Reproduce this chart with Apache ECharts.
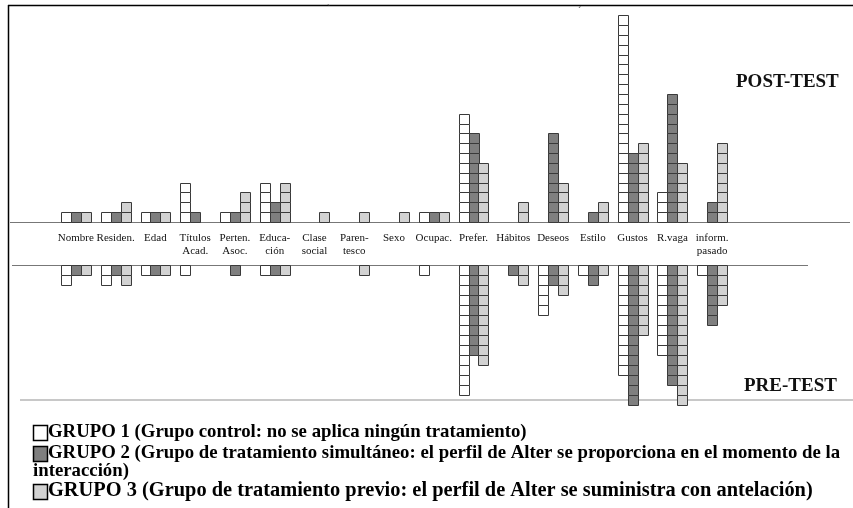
<!DOCTYPE html>
<html>
<head>
<meta charset="utf-8">
<script src="https://cdn.jsdelivr.net/npm/echarts@6/dist/echarts.min.js"></script>
<style>
  html, body { margin: 0; padding: 0; background: #fff; }
  #chart { width: 853px; height: 508px; }
</style>
</head>
<body>
<div id="chart"></div>
<script>
// categories (labels between the two baselines)
const categories = [
  "Nombre", "Residen.", "Edad", "Títulos\nAcad.", "Perten.\nAsoc.", "Educa-\nción",
  "Clase\nsocial", "Paren-\ntesco", "Sexo", "Ocupac.", "Prefer.", "Hábitos",
  "Deseos", "Estilo", "Gustos", "R.vaga", "inform.\npasado"
];

// POST-TEST counts (upper half)
const grupo1Post = [1, 1, 1, 4, 1, 4, 0, 0, 0, 1, 11, 0, 0, 0, 21, 3, 0];
const grupo2Post = [1, 1, 1, 1, 1, 2, 0, 0, 0, 1, 9, 0, 9, 1, 7, 13, 2];
const grupo3Post = [1, 2, 1, 0, 3, 4, 1, 1, 1, 1, 6, 2, 4, 2, 8, 6, 8];

// PRE-TEST counts (lower half)
const grupo1Pre = [2, 2, 1, 1, 0, 1, 0, 0, 0, 1, 13, 0, 5, 1, 11, 9, 1];
const grupo2Pre = [1, 1, 1, 0, 1, 1, 0, 0, 0, 0, 9, 1, 2, 2, 14, 12, 6];
const grupo3Pre = [1, 2, 1, 0, 0, 1, 0, 1, 0, 0, 10, 2, 3, 1, 7, 14, 4];

const groupNames = [
  "GRUPO 1 (Grupo control: no se aplica ningún tratamiento)",
  "GRUPO 2 (Grupo de tratamiento simultáneo: el perfil de Alter se proporciona en el momento de la",
  "GRUPO 3 (Grupo de tratamiento previo: el perfil de Alter se suministra con antelación)"
];
const groupNameTail = "interacción)";

const colors = ["#ffffff", "#7f7f7f", "#d2d2d2"];
const serif = "'Liberation Serif', 'DejaVu Serif', serif";

const postMax = 22;
const preMax = 15;
const postBase = 222;
const preBase = 265;

// one stack of square cells per category, shifted left/mid/right inside the band
function cellRenderer(offset, color) {
  return function (params, api) {
    const idx = api.value(0);
    const n = api.value(1);
    const w = api.size([1, 0])[0] / 4;
    const children = [];
    for (let k = 0; k < n; k++) {
      const p0 = api.coord([idx, k]);
      const p1 = api.coord([idx, k + 1]);
      const x = Math.round(p0[0] + offset * w - w / 2) + 0.5;
      const y0 = Math.round(Math.min(p0[1], p1[1])) + 0.5;
      const y1 = Math.round(Math.max(p0[1], p1[1])) + 0.5;
      children.push({
        type: "rect",
        shape: { x: x, y: y0, width: Math.round(w), height: y1 - y0 },
        style: { fill: color, stroke: "#3a3a3a", lineWidth: 1 }
      });
    }
    return { type: "group", children: children };
  };
}

function makeSeries(name, values, offset, color, axisIndex) {
  return {
    name: name,
    type: "custom",
    xAxisIndex: axisIndex,
    yAxisIndex: axisIndex,
    renderItem: cellRenderer(offset, color),
    data: values.map((v, i) => [i, v]),
    silent: true
  };
}

const chart = echarts.init(document.getElementById("chart"), null, { renderer: "canvas" });

const gridLeft = 56;
const gridRight = 121;
const legendFont = "bold 18.8px " + serif;

const option = {
  backgroundColor: "#fff",
  animation: false,
  title: [
    {
      text: "POST-TEST", left: 731, top: 68,
      textStyle: { fontFamily: serif, fontWeight: "bold", fontSize: 19, color: "#111" }
    },
    {
      text: "PRE-TEST", left: 739, top: 372,
      textStyle: { fontFamily: serif, fontWeight: "bold", fontSize: 19, color: "#111" }
    }
  ],
  grid: [
    { left: gridLeft, right: gridRight, top: postBase - postMax * 9.85, height: postMax * 9.85 },
    { left: gridLeft, right: gridRight, top: preBase, height: preMax * 10 }
  ],
  xAxis: [
    {
      gridIndex: 0, type: "category", data: categories,
      axisLine: { show: false }, axisTick: { show: false }, splitLine: { show: false },
      axisLabel: {
        interval: 0, margin: 10, fontFamily: serif, fontSize: 11, lineHeight: 13,
        color: "#111"
      }
    },
    {
      gridIndex: 1, type: "category", data: categories,
      axisLine: { show: false }, axisTick: { show: false }, axisLabel: { show: false }
    }
  ],
  yAxis: [
    { gridIndex: 0, type: "value", min: 0, max: postMax, show: false },
    { gridIndex: 1, type: "value", min: 0, max: preMax, inverse: true, show: false }
  ],
  series: [
    makeSeries("GRUPO 1", grupo1Post, -1, colors[0], 0),
    makeSeries("GRUPO 2", grupo2Post, 0, colors[1], 0),
    makeSeries("GRUPO 3", grupo3Post, 1, colors[2], 0),
    makeSeries("GRUPO 1", grupo1Pre, -1, colors[0], 1),
    makeSeries("GRUPO 2", grupo2Pre, 0, colors[1], 1),
    makeSeries("GRUPO 3", grupo3Pre, 1, colors[2], 1)
  ],
  graphic: [
    // frame
    { type: "line", shape: { x1: 8, y1: 5.5, x2: 853, y2: 5.5 }, style: { stroke: "#000", lineWidth: 1.5 } },
    { type: "line", shape: { x1: 8.5, y1: 5, x2: 8.5, y2: 508 }, style: { stroke: "#000", lineWidth: 1.5 } },
    // baselines
    { type: "line", shape: { x1: 10, y1: postBase + 0.5, x2: 850, y2: postBase + 0.5 }, style: { stroke: "#777", lineWidth: 1.2 } },
    { type: "line", shape: { x1: 12, y1: preBase + 0.5, x2: 808, y2: preBase + 0.5 }, style: { stroke: "#777", lineWidth: 1.2 } },
    // separator above the legend
    { type: "line", shape: { x1: 20, y1: 400, x2: 853, y2: 400 }, style: { stroke: "#c8c8c8", lineWidth: 2 } },
    // stray marks at the top of the scan
    { type: "text", left: 327, top: 4, style: { text: "`", font: "10px " + serif, fill: "#333" } },
    { type: "text", left: 578, top: 6, style: { text: "´", font: "10px " + serif, fill: "#333" } },
    // legend
    { type: "rect", shape: { x: 33.5, y: 425.5, width: 14, height: 15 }, style: { fill: colors[0], stroke: "#000", lineWidth: 1.5 } },
    { type: "text", left: 48, top: 423, style: { text: groupNames[0], font: legendFont, fill: "#000" } },
    { type: "rect", shape: { x: 33.5, y: 446.5, width: 14, height: 15 }, style: { fill: colors[1], stroke: "#000", lineWidth: 1.5 } },
    { type: "text", left: 48, top: 444, style: { text: groupNames[1], font: legendFont, fill: "#000" } },
    { type: "text", left: 33, top: 462, style: { text: groupNameTail, font: legendFont, fill: "#000" } },
    { type: "rect", shape: { x: 33.5, y: 484.5, width: 14, height: 15 }, style: { fill: colors[2], stroke: "#000", lineWidth: 1.5 } },
    { type: "text", left: 48, top: 481, style: { text: groupNames[2], font: "bold 20.4px " + serif, fill: "#000" } }
  ]
};

chart.setOption(option);
</script>
</body>
</html>
